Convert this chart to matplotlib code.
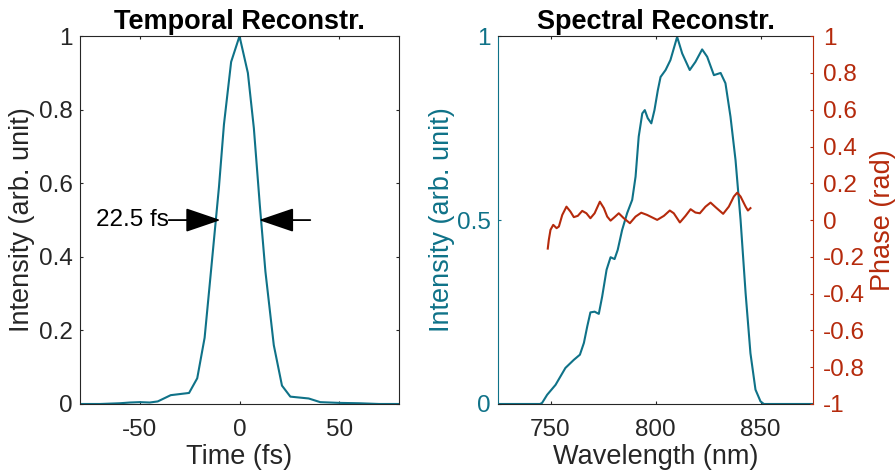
import numpy as np
import matplotlib
matplotlib.use("Agg")
from matplotlib import pyplot as plt
from matplotlib.ticker import FormatStrFormatter

plt.rcParams['font.family'] = ['Liberation Sans', 'DejaVu Sans']
plt.rcParams['axes.unicode_minus'] = False

teal = '#0f7288'
red = '#b52a0c'
grey = '#262626'

# temporal profile
t_fs = [-80, -70, -60, -55, -50, -45, -41, -34.5, -25.3, -21.2, -17.5, -14.5, -10.3, -7.8, -4.2,
        0, 4.2, 7.2, 10.2, 13, 17.2, 21.3, 25.5, 34.7, 40.5, 50, 60, 70, 80]
t_int = [0, 0, 0.002, 0.004, 0.005, 0.004, 0.007, 0.024, 0.03, 0.07, 0.18, 0.35, 0.59, 0.76, 0.93,
         1.0, 0.90, 0.75, 0.54, 0.36, 0.16, 0.05, 0.02, 0.015, 0.005, 0.003, 0.002, 0, 0]

# spectrum
wl = [725, 745, 746, 748.4, 752.4, 757.1, 761.1, 764, 765.9, 767.5, 769, 771, 773, 774.6, 776.7,
      778.6, 780.5, 782, 784.1, 786.5, 788.9, 790.5, 792, 793.7, 794.9, 796.3, 798, 799.5, 801.1,
      802.4, 804.8, 807.1, 810.3, 812.7, 816.3, 819, 822.2, 824.6, 827.8, 831, 833.3, 835.7,
      838.1, 840.5, 842.9, 845.2, 847.6, 850, 851.6, 875]
spec = [0, 0, 0.003, 0.025, 0.052, 0.098, 0.12, 0.134, 0.166, 0.211, 0.249, 0.251, 0.245, 0.292,
        0.365, 0.399, 0.394, 0.419, 0.473, 0.519, 0.555, 0.618, 0.727, 0.79, 0.799, 0.777, 0.763,
        0.799, 0.853, 0.889, 0.908, 0.935, 0.998, 0.953, 0.908, 0.930, 0.964, 0.944, 0.894, 0.90,
        0.872, 0.781, 0.663, 0.50, 0.301, 0.138, 0.039, 0.007, 0, 0]

# spectral phase
ph_wl = [748.7, 749.2, 750, 751.3, 752.9, 754, 755.6, 757.6, 759.5, 761.1, 763, 765.1, 767.1, 769,
         771, 773.5, 775.4, 777, 778.6, 780.5, 782.5, 784.9, 787.8, 790.5, 793.2, 796, 800.8, 804,
         806.8, 808.7, 811.6, 814.3, 816.7, 819, 821.1, 823.8, 826.2, 828.6, 832.2, 834.9, 837.3,
         838.9, 840.5, 842.9, 844, 845.2]
phase = [-0.155, -0.107, -0.053, -0.026, -0.044, -0.035, 0.028, 0.073, 0.046, 0.016, 0.023, 0.05,
         0.037, 0.01, 0.037, 0.10, 0.065, 0.019, -0.003, 0.016, 0.037, 0.01, -0.017, 0.019, 0.04,
         0.028, 0.001, 0.023, 0.052, 0.037, -0.013, 0.023, 0.059, 0.041, 0.037, 0.073, 0.095, 0.07,
         0.034, 0.073, 0.128, 0.149, 0.128, 0.073, 0.052, 0.065]

phase_ticks = [-1, -0.8, -0.6, -0.4, -0.2, 0, 0.2, 0.4, 0.6, 0.8, 1]

fig = plt.figure(figsize=(8.96, 4.74), dpi=100)
ax1 = fig.add_axes([0.0893, 0.1477, 0.356, 0.776])
ax2 = fig.add_axes([0.5558, 0.1477, 0.3516, 0.776])

def style(ax):
    for s in ax.spines.values():
        s.set_color(grey)
        s.set_linewidth(0.8)
    ax.tick_params(direction='in', length=2.5, width=0.8, labelsize=17.5, colors=grey)
    ax.tick_params(axis='x', pad=11)

# left panel
style(ax1)
ax1.plot(t_fs, t_int, color=teal, lw=1.5)
ax1.set_xlim(-80, 80)
ax1.set_ylim(0, 1)
ax1.set_xticks([-50, 0, 50])
ax1.set_yticks([0, 0.2, 0.4, 0.6, 0.8, 1])
ax1.yaxis.set_major_formatter(FormatStrFormatter('%g'))
ax1.tick_params(top=True, right=True, axis='both')
ax1.tick_params(axis='y', pad=5)
ax1.set_title('Temporal Reconstr.', fontsize=19.5, fontweight='bold', pad=5)
ax1.set_xlabel('Time (fs)', fontsize=19.5, color=grey, labelpad=2)
ax1.set_ylabel('Intensity (arb. unit)', fontsize=19.5, color=grey)
ax1.yaxis.set_label_coords(-0.141, 0.5)

arrow = dict(arrowstyle='-|>,head_length=2.2,head_width=0.75', color='black', lw=1.3,
             shrinkA=0, shrinkB=0)
ax1.annotate('', xy=(-9.5, 0.5), xytext=(-35.5, 0.5), arrowprops=arrow)
ax1.annotate('', xy=(9.7, 0.5), xytext=(35.5, 0.5), arrowprops=arrow)
ax1.text(-35.5, 0.5, '22.5 fs', fontsize=17.5, ha='right', va='center', color='black')

# right panel
style(ax2)
ax2.plot(wl, spec, color=teal, lw=1.5)
ax2.set_xlim(725, 875)
ax2.set_ylim(0, 1)
ax2.set_xticks([750, 800, 850])
ax2.set_yticks([0, 0.5, 1])
ax2.yaxis.set_major_formatter(FormatStrFormatter('%g'))
ax2.tick_params(axis='x', top=True)
ax2.tick_params(axis='y', colors=teal, pad=5)
ax2.spines['left'].set_color(teal)
ax2.spines['right'].set_visible(False)
ax2.set_title('Spectral Reconstr.', fontsize=19.5, fontweight='bold', pad=5)
ax2.set_xlabel('Wavelength (nm)', fontsize=19.5, color=grey, labelpad=2)
ax2.set_ylabel('Intensity (arb. unit)', fontsize=19.5, color=teal)
ax2.yaxis.set_label_coords(-0.137, 0.5)

ax3 = ax2.twinx()
ax3.plot(ph_wl, phase, color=red, lw=1.5)
ax3.set_ylim(-1, 1)
ax3.set_yticks(phase_ticks)
ax3.yaxis.set_major_formatter(FormatStrFormatter('%g'))
for s in ax3.spines.values():
    s.set_visible(False)
ax3.spines['right'].set_visible(True)
ax3.spines['right'].set_color(red)
ax3.spines['right'].set_linewidth(0.8)
ax3.tick_params(axis='y', direction='in', length=2.5, width=0.8, labelsize=17.5, colors=red, pad=7)
ax3.set_ylabel('Phase (rad)', fontsize=19.5, color=red)
ax3.yaxis.set_label_coords(1.181, 0.5)

fig.savefig('out.png', dpi=100)
